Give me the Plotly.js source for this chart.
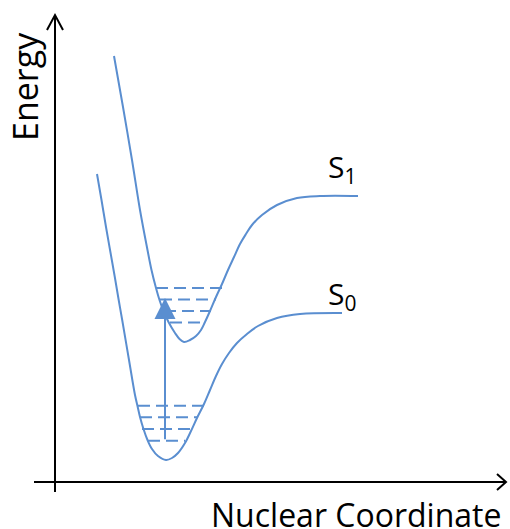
<!DOCTYPE html>
<html>
<head>
<meta charset="utf-8">
<script src="https://cdn.plot.ly/plotly-3.0.1.min.js"></script>
<style>html,body{margin:0;padding:0;background:#fff;}#chart{width:510px;height:529px;}</style>
</head>
<body>
<div id="chart"></div>
<script>
// Potential energy curves (x: nuclear coordinate, E: energy; arbitrary units)
const s1X = [59,68,77,85,92.5,96.5,101,104.5,108.5,113.5,120,124.5,129,135,141,146,150,155,161,167,173,179,185,191,197,207,222,242,265,303];
const s1E = [426,375,322,272,232,212,194,182,171,160,149,143,140,142,146,152,160,171,185,198,212,225,238,248,257,267,277,284,286,286];
const s0X = [42,46.5,51,55.4,59.8,63.7,67.2,74,80,82.5,85,88.5,92.5,97,103,111,117,123,130,136,142,149,155,161,167,174,182,192,203,222,245,287];
const s0E = [308,282,255,230,205,182,162,122,87,76,65,53,42,33,26,22,24,29,39,51,64,78,92,106,118,129,139,148,156,164,168,169];

// Vibrational levels
const s1LevelE = [194,182.5,171,159.5];
const s1LevelLeft = [101,105,109,115];
const s1LevelRight = [167,161,156,149];
const s0LevelE = [76.3,64.7,53,41.3];
const s0LevelLeft = [83,85,87,93];
const s0LevelRight = [149,142,137,130];

// Excitation
const transitionX = 110;
const transitionFrom = 41.3;
const transitionTo = 184;

const stateLabels = ['S<sub>1</sub>','S<sub>0</sub>'];
const axisTitles = ['Energy','Nuclear Coordinate'];

const blue = '#5a8ed0';
const traces = [];
traces.push({x:s1X,y:s1E,mode:'lines',line:{color:blue,width:2,shape:'spline',smoothing:1},hoverinfo:'skip'});
traces.push({x:s0X,y:s0E,mode:'lines',line:{color:blue,width:2,shape:'spline',smoothing:1},hoverinfo:'skip'});
function addLevels(E,L,R){
  for(let i=0;i<E.length;i++){
    traces.push({x:[L[i],R[i]],y:[E[i],E[i]],mode:'lines',line:{color:blue,width:2,dash:'12px,6px'},hoverinfo:'skip'});
  }
}
addLevels(s1LevelE,s1LevelLeft,s1LevelRight);
addLevels(s0LevelE,s0LevelLeft,s0LevelRight);

const font = 'Open Sans, sans-serif';
const layout = {
  width:510,height:529,
  margin:{l:0,r:0,t:0,b:0},
  paper_bgcolor:'#fff',plot_bgcolor:'#fff',
  showlegend:false,
  xaxis:{range:[-55,455],visible:false,fixedrange:true},
  yaxis:{range:[-47,482],visible:false,fixedrange:true},
  shapes:[
    {type:'line',xref:'x',yref:'y',x0:0,x1:0,y0:-10,y1:467,line:{color:'#000',width:2}},
    {type:'line',xref:'x',yref:'y',x0:-21,x1:450,y0:0,y1:0,line:{color:'#000',width:2}},
    {type:'path',xref:'x',yref:'y',path:'M -8,452 L 0,467 L 8,452',line:{color:'#000',width:2}},
    {type:'path',xref:'x',yref:'y',path:'M 442,8 L 451,0 L 442,-8',line:{color:'#000',width:2}}
  ],
  annotations:[
    {x:transitionX,y:transitionTo,ax:transitionX,ay:transitionFrom,axref:'x',ayref:'y',xref:'x',yref:'y',
     text:'',showarrow:true,arrowhead:2,arrowsize:2.1,arrowwidth:2,arrowcolor:blue,standoff:0,startstandoff:0},
    {x:271,y:314,xref:'x',yref:'y',text:stateLabels[0],showarrow:false,xanchor:'left',yanchor:'middle',font:{family:font,size:30,color:'#000'}},
    {x:271,y:187,xref:'x',yref:'y',text:stateLabels[1],showarrow:false,xanchor:'left',yanchor:'middle',font:{family:font,size:30,color:'#000'}},
    {x:-30,y:395,xref:'x',yref:'y',text:axisTitles[0],textangle:-90,showarrow:false,xanchor:'center',yanchor:'middle',font:{family:font,size:34,color:'#000'}},
    {x:448,y:-32,xref:'x',yref:'y',text:axisTitles[1],showarrow:false,xanchor:'right',yanchor:'middle',font:{family:font,size:32,color:'#000'}}
  ]
};
Plotly.newPlot('chart',traces,layout,{staticPlot:true,displayModeBar:false});
</script>
</body>
</html>
